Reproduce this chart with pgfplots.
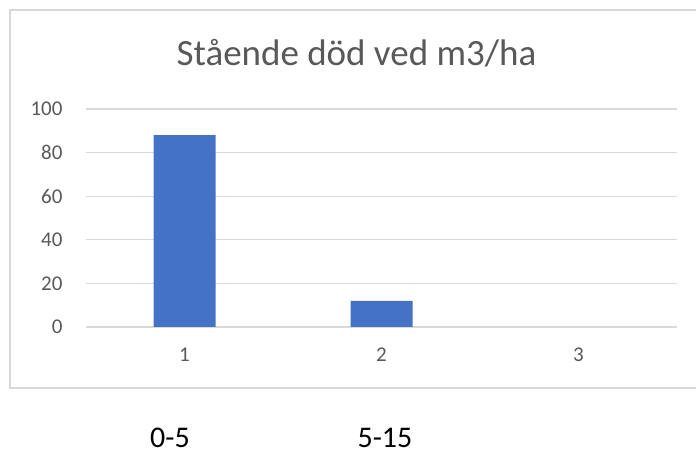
\documentclass[border=0pt]{standalone}
\usepackage{fontspec}
\setmainfont{Carlito}
\usepackage{pgfplots}
\pgfplotsset{compat=1.18}
\definecolor{barblue}{HTML}{4472C4}
\definecolor{gridgray}{HTML}{D9D9D9}
\definecolor{txtgray}{HTML}{595959}
\begin{document}
\begin{tikzpicture}
\useasboundingbox (0,0) rectangle (696bp,456bp);
\fill[white] (0,0) rectangle (696bp,456bp);
\draw[gridgray, line width=1.3bp] (10bp,68bp) rectangle (700bp,446bp);
\begin{axis}[
  at={(86bp,129bp)}, anchor=south west,
  scale only axis, width=591bp, height=218bp,
  xmin=0.5, xmax=3.5, ymin=0, ymax=100,
  axis lines=none,
  ybar, bar width=62bp,
  xtick={1,2,3}, ytick={0,20,...,100},
  ymajorgrids, grid style={gridgray, line width=1.3bp},
  major tick length=0pt,
  tick label style={font=\fontsize{21bp}{25bp}\selectfont, text=txtgray},
  /pgf/number format/assume math mode=true,
  yticklabel style={anchor=east, xshift=-20bp},
  xticklabel style={anchor=north, yshift=-17bp},
  hide x axis=false, hide y axis=false,
  x axis line style={draw=none}, y axis line style={draw=none},
  restrict y to domain=0.001:1000,
]
\addplot[fill=barblue, draw=none, bar shift=0pt] coordinates {(1,88) (2,12) (3,0)};
\end{axis}
\node[anchor=base, text=txtgray, font=\fontsize{37bp}{44bp}\selectfont] at (356.5bp,390bp) {Stående död ved m3/ha};
\node[anchor=base, font=\fontsize{30bp}{36bp}\selectfont, inner sep=0pt] at (170bp,9bp) {0-5};
\node[anchor=base, font=\fontsize{30bp}{36bp}\selectfont, inner sep=0pt] at (385bp,9bp) {5-15};
\end{tikzpicture}
\end{document}
